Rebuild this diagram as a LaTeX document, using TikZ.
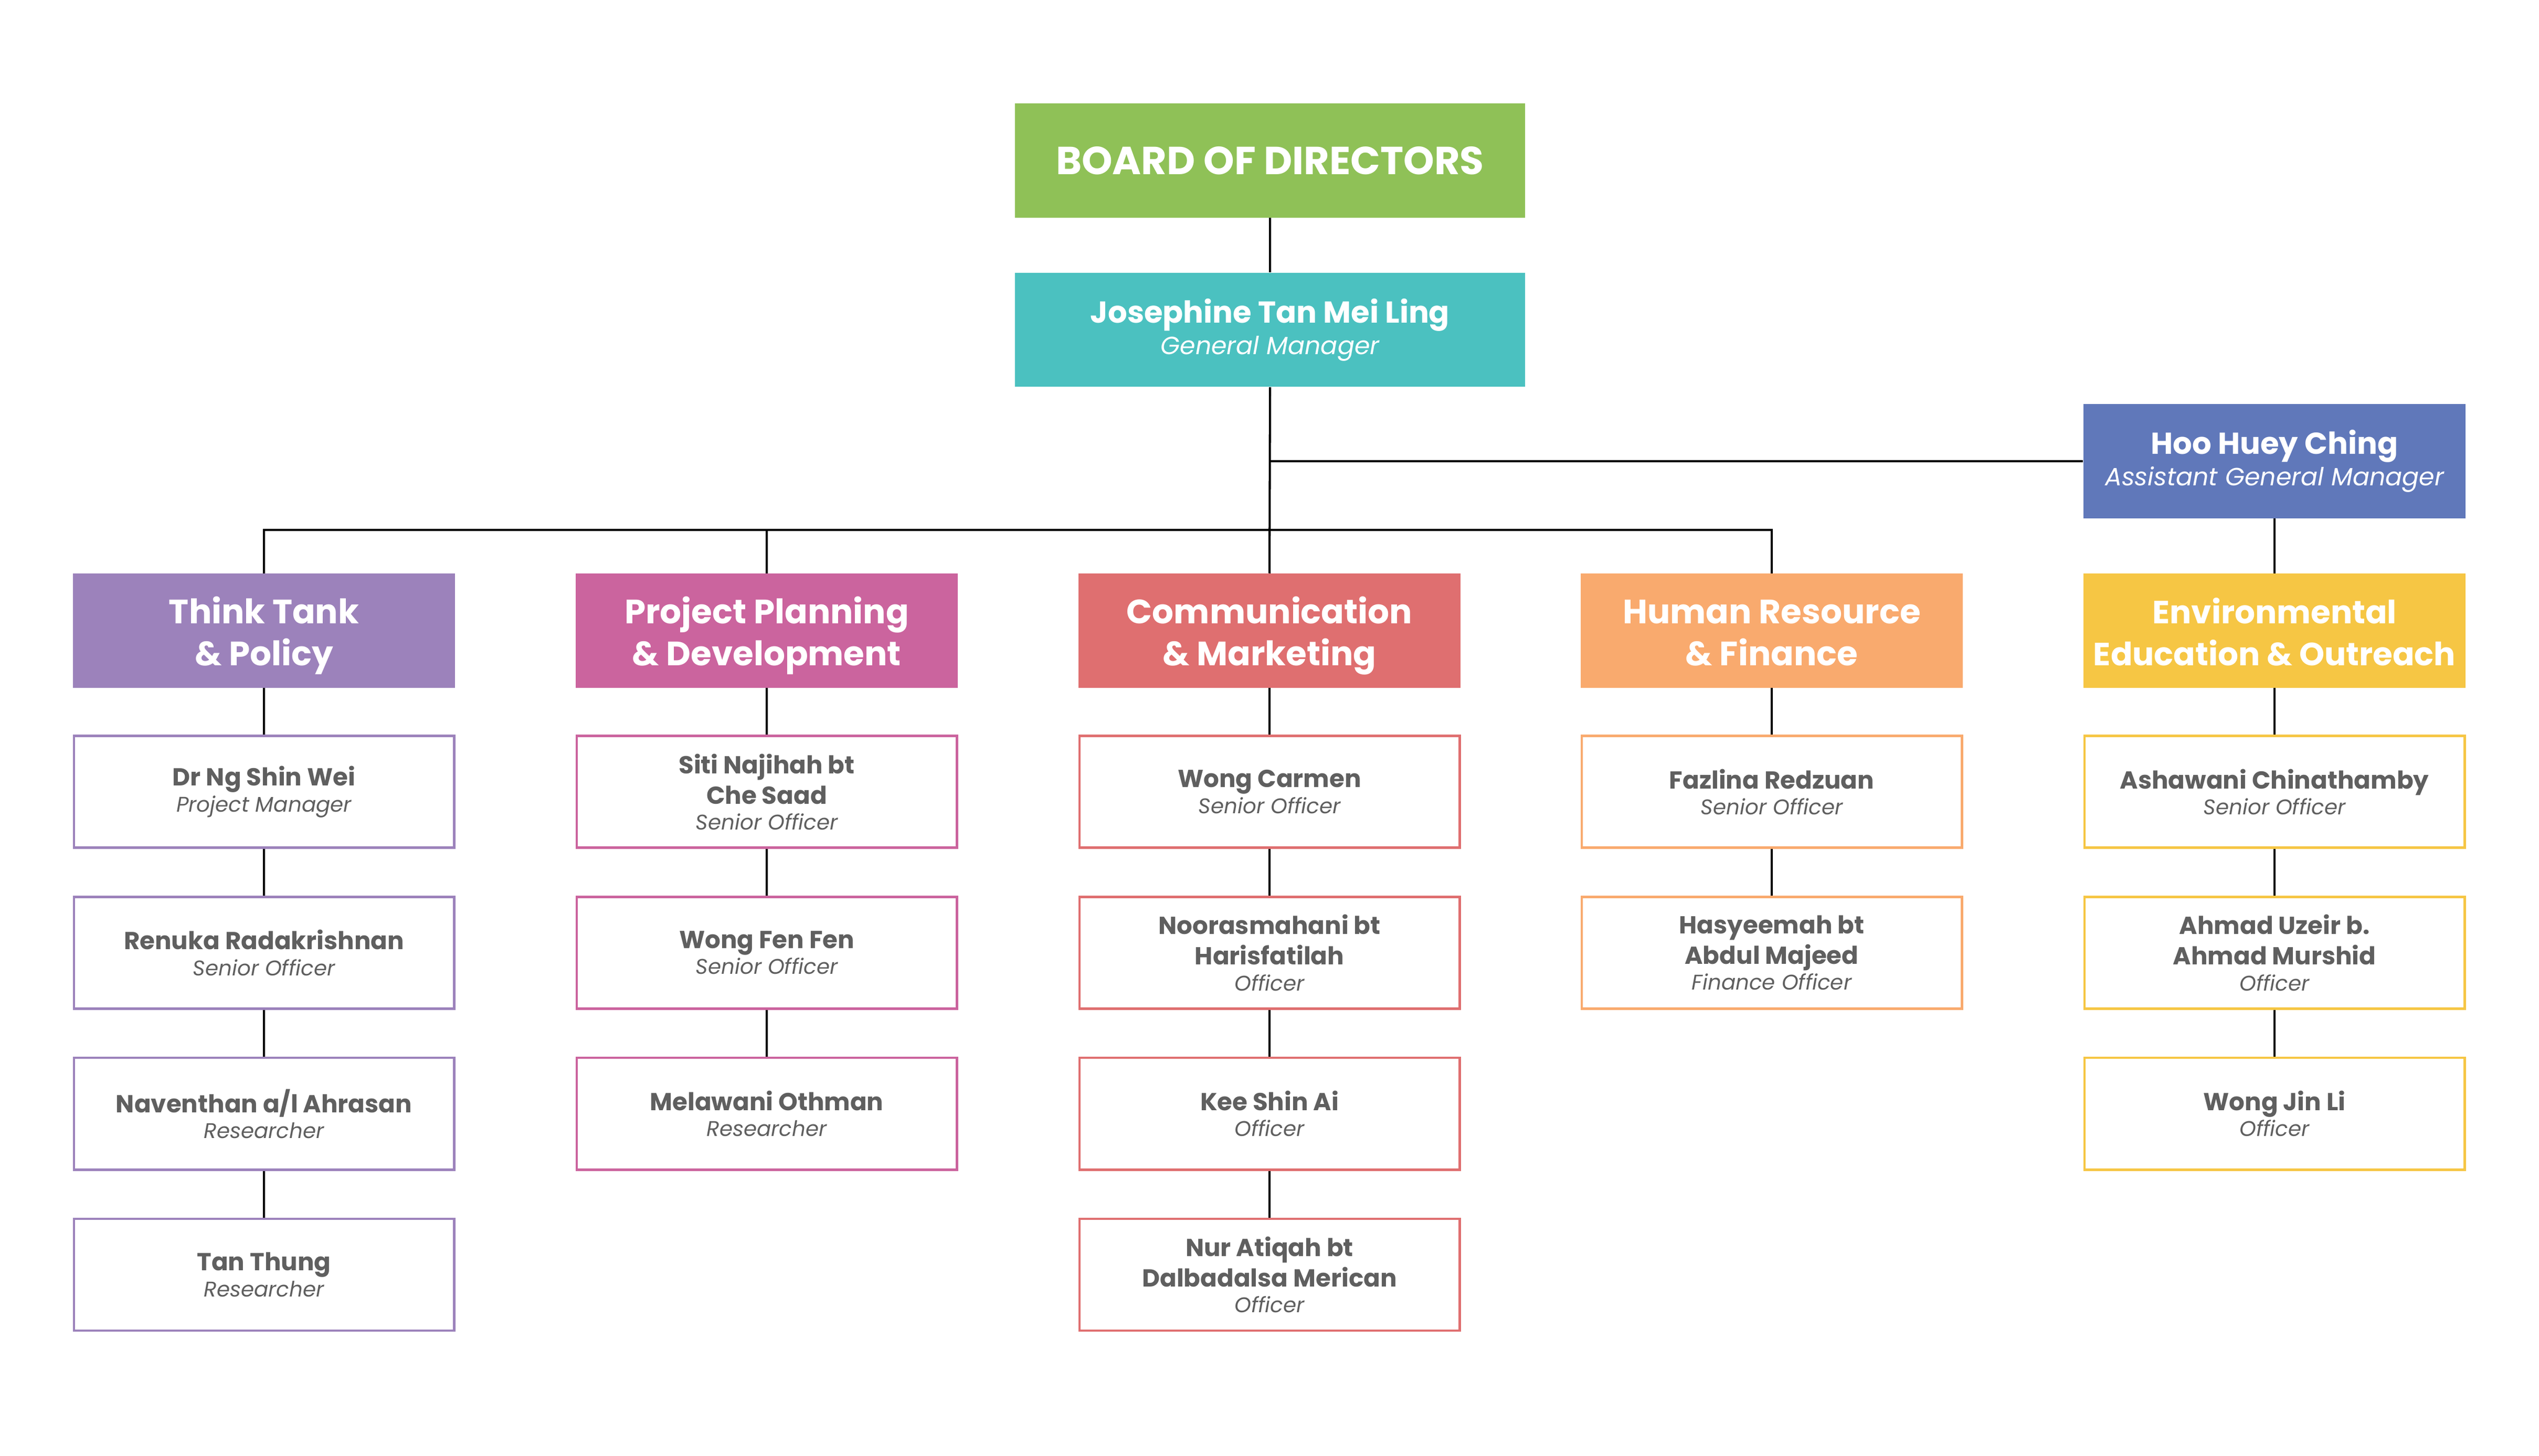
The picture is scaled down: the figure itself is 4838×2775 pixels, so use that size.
\documentclass[tikz,border=0pt]{standalone}
\usepackage{fontspec}
\setmainfont{Poppins}
\usepackage{tikz}
\usetikzlibrary{positioning}
\definecolor{boardgreen}{HTML}{8FC157}
\definecolor{gmteal}{HTML}{4BC1C0}
\definecolor{agmblue}{HTML}{6078BA}
\definecolor{ttpurple}{HTML}{9C82BB}
\definecolor{pppink}{HTML}{CB649E}
\definecolor{cmred}{HTML}{DF6F70}
\definecolor{hrorange}{HTML}{F9AA6E}
\definecolor{eeyellow}{HTML}{F6C644}
\definecolor{txtgray}{HTML}{5F5F5F}
\tikzset{
	box/.style={minimum width=7.28cm, minimum height=2.17cm, align=center, inner sep=0pt},
	head/.style={box, fill=#1, text=white, font=\bfseries\fontsize{18.3}{22.9}\selectfont},
	boss/.style={box, fill=#1, text=white, font=\bfseries\fontsize{16.4}{19}\selectfont},
	person/.style={box, minimum width=7.24cm, minimum height=2.13cm, draw=#1, fill=white, line width=1.3pt, text=txtgray, font=\bfseries\fontsize{13.3}{16.5}\selectfont},
	conn/.style={draw=black, line width=1.15pt}
}
\newcommand{\role}[1]{\\[-2.5pt]{\mdseries\itshape\fontsize{11.5}{14}\selectfont #1}}
\newcommand{\bossrole}[1]{\\[-2pt]{\mdseries\itshape\fontsize{13.5}{17}\selectfont #1}}
\newcommand{\hd}[2]{\rule{0pt}{16pt}#1\\\smash{#2}\rule[-1.06pt]{0pt}{0pt}}

\begin{document}
\begin{tikzpicture}[x=0.01cm, y=-0.01cm, node distance=0.89cm]
	\useasboundingbox (0,0) rectangle (4838,2775);
	
	% Top of the chart
	\node [box, minimum width=9.71cm, fill=boardgreen, text=white, font=\bfseries\fontsize{21.2}{24}\selectfont] at (2420,306) (board) {BOARD OF DIRECTORS};
	\node [boss=gmteal, minimum width=9.71cm, below=1.04cm of board] (gm) {Josephine Tan Mei Ling\bossrole{General Manager}};
	\node [boss=agmblue] at (4334,879) (agm) {Hoo Huey Ching\bossrole{Assistant General Manager}};
	\coordinate (bus) at (2419,1010);
	
	% Departments
	\node [head=ttpurple] at (503,1202) (tt) {\hd{Think Tank}{\& Policy}};
	\node [head=pppink] at (1461,1202) (pp) {\hd{Project Planning}{\& Development}};
	\node [head=cmred] at (2419,1202) (cm) {\hd{Communication}{\& Marketing}};
	\node [head=hrorange] at (3376,1202) (hr) {\hd{Human Resource}{\& Finance}};
	\node [head=eeyellow, font=\bfseries\fontsize{17.4}{22.9}\selectfont] at (4334,1202) (ee) {\hd{Environmental}{Education \& Outreach}};
	
	% Think Tank & Policy
	\node [person=ttpurple, below=of tt] (tt1) {Dr Ng Shin Wei\role{Project Manager}};
	\node [person=ttpurple, below=of tt1] (tt2) {Renuka Radakrishnan\role{Senior Officer}};
	\node [person=ttpurple, below=of tt2] (tt3) {Naventhan a/l Ahrasan\role{Researcher}};
	\node [person=ttpurple, below=of tt3] (tt4) {Tan Thung\role{Researcher}};
	
	% Project Planning & Development
	\node [person=pppink, below=of pp] (pp1) {Siti Najihah bt\\Che Saad\role{Senior Officer}};
	\node [person=pppink, below=of pp1] (pp2) {Wong Fen Fen\role{Senior Officer}};
	\node [person=pppink, below=of pp2] (pp3) {Melawani Othman\role{Researcher}};
	
	% Communication & Marketing
	\node [person=cmred, below=of cm] (cm1) {Wong Carmen\role{Senior Officer}};
	\node [person=cmred, below=of cm1] (cm2) {Noorasmahani bt\\Harisfatilah\role{Officer}};
	\node [person=cmred, below=of cm2] (cm3) {Kee Shin Ai\role{Officer}};
	\node [person=cmred, below=of cm3] (cm4) {Nur Atiqah bt\\Dalbadalsa Merican\role{Officer}};
	
	% Human Resource & Finance
	\node [person=hrorange, below=of hr] (hr1) {Fazlina Redzuan\role{Senior Officer}};
	\node [person=hrorange, below=of hr1] (hr2) {Hasyeemah bt\\Abdul Majeed\role{Finance Officer}};
	
	% Environmental Education & Outreach
	\node [person=eeyellow, below=of ee] (ee1) {Ashawani Chinathamby\role{Senior Officer}};
	\node [person=eeyellow, below=of ee1] (ee2) {Ahmad Uzeir b.\\Ahmad Murshid\role{Officer}};
	\node [person=eeyellow, below=of ee2] (ee3) {Wong Jin Li\role{Officer}};
	
	% Connections
	\draw [conn] (board.south) -- (gm.north);
	\draw [conn] (gm.south) -- (cm.north);
	\draw [conn] (gm.south |- agm.west) -- (agm.west);
	\draw [conn] (agm.south) -- (ee.north);
	\draw [conn] (tt.north) |- (bus) -| (hr.north);
	\draw [conn] (pp.north) -- (pp.north |- bus);
	\foreach \a/\b in {tt/tt1, tt1/tt2, tt2/tt3, tt3/tt4, pp/pp1, pp1/pp2, pp2/pp3, cm/cm1, cm1/cm2, cm2/cm3, cm3/cm4, hr/hr1, hr1/hr2, ee/ee1, ee1/ee2, ee2/ee3}
		\draw [conn] (\a.south) -- (\b.north);
\end{tikzpicture}
\end{document}
